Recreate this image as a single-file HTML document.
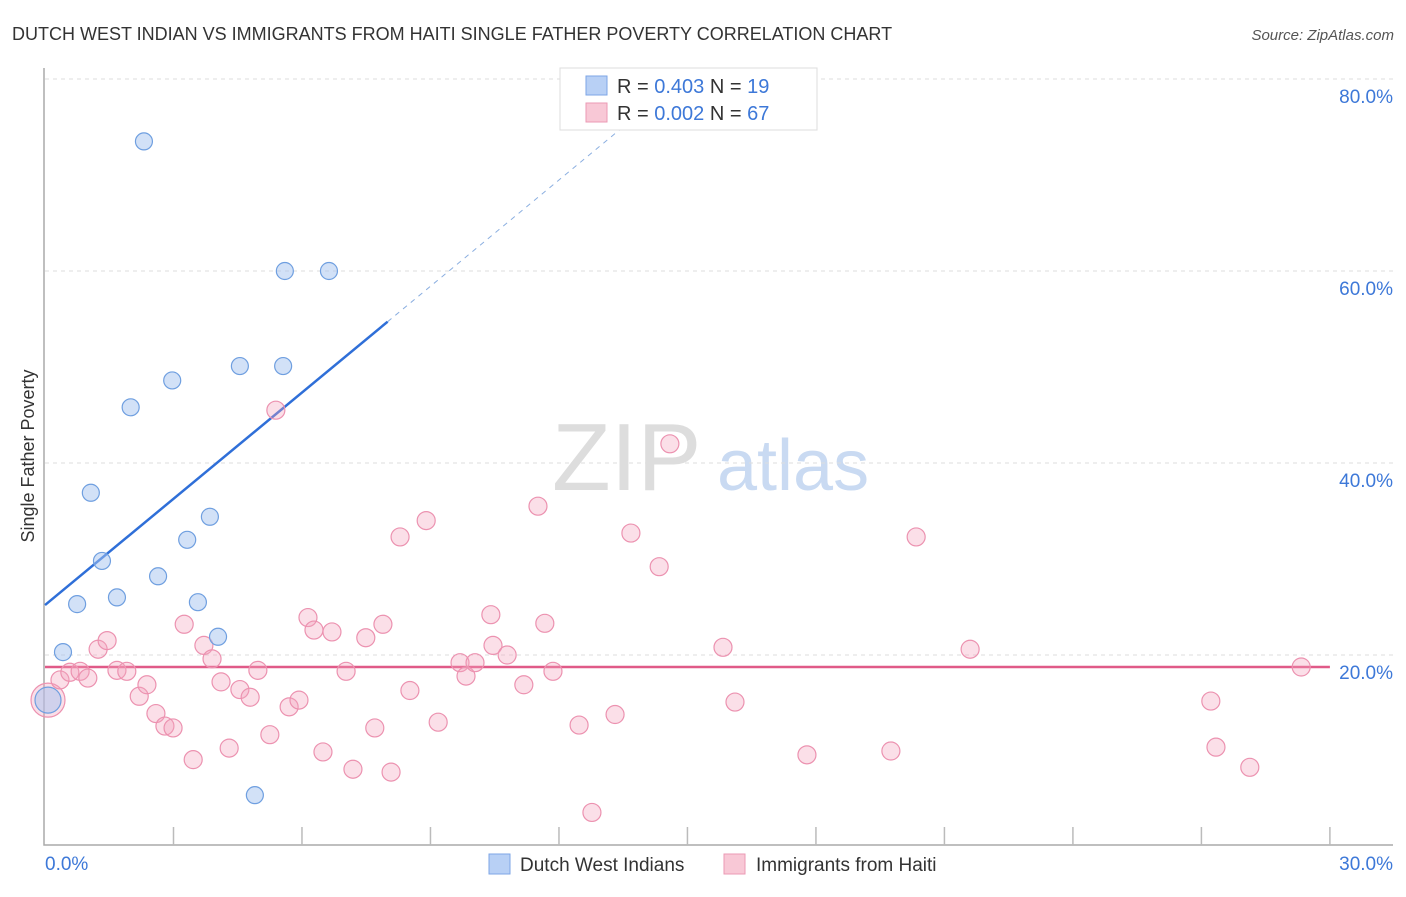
<!DOCTYPE html>
<html><head><meta charset="utf-8">
<style>
body{margin:0;background:#fff;font-family:"Liberation Sans",sans-serif;}
svg text{font-family:"Liberation Sans",sans-serif;}
</style></head>
<body>
<svg id="chart" width="1406" height="892" viewBox="0 0 1406 892" xmlns="http://www.w3.org/2000/svg">
<text x="12" y="40" font-size="18" fill="#333">DUTCH WEST INDIAN VS IMMIGRANTS FROM HAITI SINGLE FATHER POVERTY CORRELATION CHART</text>
<text x="1394" y="40" font-size="15" fill="#555" font-style="italic" text-anchor="end">Source: ZipAtlas.com</text>
<g>
<text x="552" y="490" font-size="96" fill="#ddd" font-family="Liberation Serif" >ZIP</text>
<text x="717" y="490" font-size="72" fill="#c9daf2">atlas</text>
</g>
<g id="grid"></g>
<g id="axes"></g>
<g id="trend"></g>
<g id="points"></g>
<text transform="translate(34,456) rotate(-90)" font-size="18" fill="#333" text-anchor="middle">Single Father Poverty</text>
<g>
<rect x="560" y="68" width="257" height="62" fill="#fff" stroke="#ddd"/>
<rect x="586" y="76" width="21" height="19" fill="#b8d0f5" stroke="#7ea6e6"/>
<text x="617" y="93" font-size="20" fill="#333">R = <tspan fill="#3d78d8">0.403</tspan>   N =  <tspan fill="#3d78d8">19</tspan></text>
<rect x="586" y="103" width="21" height="19" fill="#f8c8d6" stroke="#eb9ab4"/>
<text x="617" y="120" font-size="20" fill="#333">R = <tspan fill="#3d78d8">0.002</tspan>   N = <tspan fill="#3d78d8">67</tspan></text>
</g>
<g>
<rect x="489" y="854" width="21" height="20" fill="#b8d0f5" stroke="#7ea6e6"/>
<text x="520" y="871" font-size="19" fill="#333">Dutch West Indians</text>
<rect x="724" y="854" width="21" height="20" fill="#f8c8d6" stroke="#eb9ab4"/>
<text x="756" y="871" font-size="19" fill="#333">Immigrants from Haiti</text>
</g>
</svg>
<script>
const blueX=[2.31,5.6,6.63,4.55,5.56,2.97,2.0,1.07,3.85,3.32,1.33,2.64,1.68,0.75,3.57,4.04,0.42,4.9,0.07];
const blueY=[73.5,60.0,60.0,50.1,50.1,48.6,45.8,36.9,34.4,32.0,29.8,28.2,26.0,25.3,25.5,21.9,20.3,5.4,15.3];
const pinkX=[0.07,0.35,0.58,0.82,1.0,1.24,1.45,1.68,1.91,2.2,2.38,2.59,2.8,2.99,3.25,3.46,3.71,3.9,4.11,4.3,4.55,4.79,4.97,5.25,5.39,5.7,5.93,6.14,6.28,6.49,6.7,7.03,7.19,7.49,7.7,7.89,8.08,8.29,8.52,8.9,9.18,9.69,9.83,10.04,10.41,10.46,10.79,11.18,11.51,11.67,11.86,12.47,12.77,13.31,13.68,14.34,14.59,15.83,16.11,17.79,19.75,20.34,21.6,27.22,27.34,28.13,29.33];
const pinkY=[15.3,17.4,18.2,18.3,17.6,20.6,21.5,18.4,18.3,15.7,16.9,13.9,12.6,12.4,23.2,9.1,21.0,19.6,17.2,10.3,16.4,15.6,18.4,11.7,45.5,14.6,15.3,23.9,22.6,9.9,22.4,18.3,8.1,21.8,12.4,23.2,7.8,32.3,16.3,34.0,13.0,19.2,17.8,19.2,24.2,21.0,20.0,16.9,35.5,23.3,18.3,12.7,3.6,13.8,32.7,29.2,42.0,20.8,15.1,9.6,10.0,32.3,20.6,15.2,10.4,8.3,18.75];
const yTicks=[20,40,60,80];
const yTickLabels=["20.0%","40.0%","60.0%","80.0%"];
const xTicks=[0,3,6,9,12,15,18,21,24,27,30];
const blueTrend=[25.2,3.69];
const pinkTrend=[18.75,0];

const NS="http://www.w3.org/2000/svg";
const sx=v=>45+v*42.83;
const sy=v=>847-v*9.6;
function mk(tag,attrs,parent){const e=document.createElementNS(NS,tag);for(const k in attrs)e.setAttribute(k,attrs[k]);parent.appendChild(e);return e;}
const grid=document.getElementById('grid'),axes=document.getElementById('axes'),trend=document.getElementById('trend'),pts=document.getElementById('points');
yTicks.forEach((t,i)=>{
  const l=mk('line',{x1:45,x2:1393,y1:sy(t),y2:sy(t),stroke:'#ddd','stroke-dasharray':'4,4'},grid);
  
  
  const tx=mk('text',{x:1393,y:sy(t)+24,'font-size':19,fill:'#3d78d8','text-anchor':'end'},grid);
  tx.textContent=yTickLabels[i];
  
  
});
const ax=mk('path',{d:`M44 68 V845 H1393`,stroke:'#aaa',fill:'none','stroke-width':1.5},axes);


xTicks.slice(1).forEach(t=>{
  const l=mk('line',{x1:sx(t),x2:sx(t),y1:827,y2:845,stroke:'#bbb','stroke-width':1.5},axes);
  
  
});
const x0=mk('text',{x:45,y:870,'font-size':19,fill:'#3d78d8'},axes);x0.textContent="0.0%";


const x1=mk('text',{x:1393,y:870,'font-size':19,fill:'#3d78d8','text-anchor':'end'},axes);x1.textContent="30.0%";


// trends
const bt=v=>blueTrend[0]+blueTrend[1]*v;
const b1=mk('line',{x1:sx(0),y1:sy(bt(0)),x2:sx(8),y2:sy(bt(8)),stroke:'#2f6fd8','stroke-width':2.5},trend);


const b2=mk('line',{x1:sx(8),y1:sy(bt(8)),x2:sx(13.6),y2:sy(bt(13.6)),stroke:'#8aaee0','stroke-width':1,'stroke-dasharray':'5,5'},trend);


const p1=mk('line',{x1:sx(0),y1:sy(pinkTrend[0]),x2:sx(30),y2:sy(pinkTrend[0]+pinkTrend[1]*30),stroke:'#e05a88','stroke-width':2.5},trend);


pinkX.forEach((x,i)=>{
  const c=mk('circle',{cx:sx(x),cy:sy(pinkY[i]),r:i===0?17:9,fill:'rgba(244,164,190,0.35)',stroke:'#ec92b0','stroke-width':1.2},pts);
  
  
});
blueX.forEach((x,i)=>{
  const c=mk('circle',{cx:sx(x),cy:sy(blueY[i]),r:i===18?13:8.5,fill:'rgba(165,196,240,0.5)',stroke:'#6f9fe0','stroke-width':1.2},pts);
  
  
});
</script>
</body></html>
